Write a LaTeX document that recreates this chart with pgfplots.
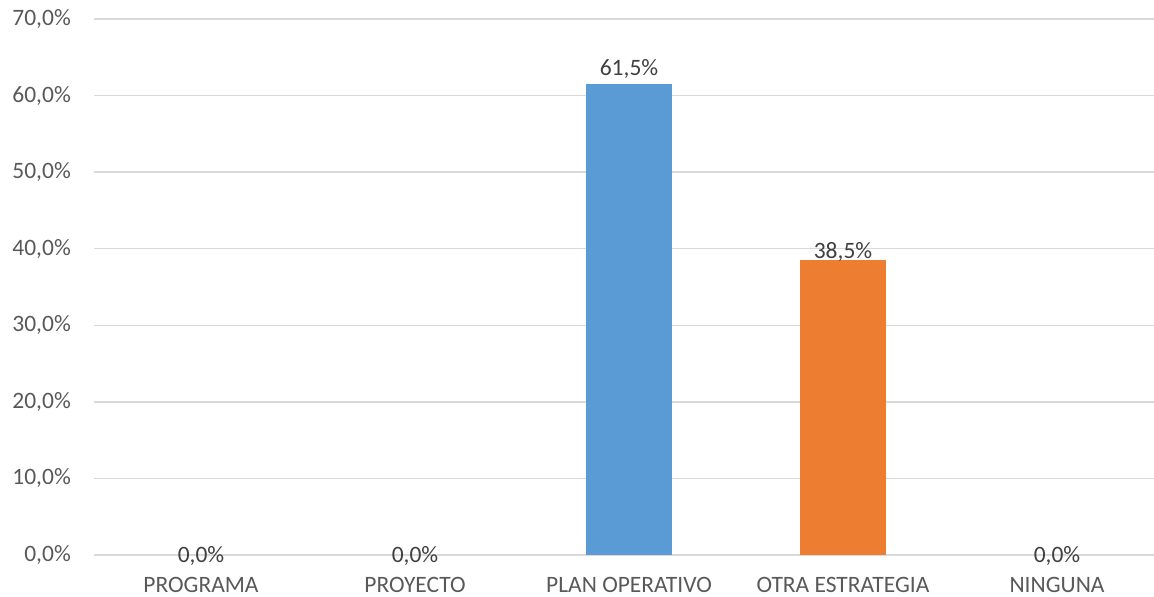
\documentclass[border=0pt]{standalone}
\usepackage{pgfplots}
\pgfplotsset{compat=1.18}
\usepackage{fontspec}
\setmainfont{Carlito}
\definecolor{txt}{HTML}{595959}
\definecolor{lbl}{HTML}{404040}
\definecolor{gridc}{HTML}{D9D9D9}
\definecolor{cblue}{HTML}{5B9BD5}
\definecolor{corange}{HTML}{ED7D31}
\begin{document}
\fontsize{23.5}{28}\selectfont
\begin{tikzpicture}[x=1pt,y=1pt]
\path[use as bounding box] (0,0) rectangle (1154,597);
\begin{axis}[
  at={(94pt,42pt)}, anchor=south west,
  scale only axis, width=1060pt, height=536pt,
  xmin=-0.5, xmax=4.4533, ymin=0, ymax=70,
  axis line style={draw=none},
  ymajorgrids, grid style={gridc, line width=1.4pt},
  major tick length=0pt,
  xtick={0,1,2,3,4},
  xticklabels={PROGRAMA,PROYECTO,PLAN OPERATIVO,OTRA ESTRATEGIA,NINGUNA},
  xticklabel style={anchor=base, yshift=-37.5pt, text=txt, font=\fontsize{23.5}{28}\selectfont},
  ytick={0,10,20,30,40,50,60,70},
  yticklabel={\pgfmathprintnumber[fixed,fixed zerofill,precision=1,use comma,assume math mode=true]{\tick}\%},
  yticklabel style={anchor=east, inner sep=0pt, xshift=-23pt, text=txt, font=\fontsize{23.5}{28}\selectfont},
  point meta=y,
  nodes near coords={\pgfmathprintnumber[fixed,fixed zerofill,precision=1,use comma,assume math mode=true]{\pgfplotspointmeta}\%},
]
\addplot[ybar, bar shift=0pt, bar width=86pt, draw=none, fill=none,
  every node near coord/.style={anchor=base, yshift=-8pt, text=lbl, inner sep=0pt, font=\fontsize{23.5}{28}\selectfont}]
  coordinates {(0,0) (1,0) (4,0)};
\addplot[ybar, bar shift=0pt, bar width=86pt, draw=none, fill=cblue,
  every node near coord/.style={anchor=base, yshift=8.5pt, text=lbl, inner sep=0pt, font=\fontsize{23.5}{28}\selectfont}]
  coordinates {(2,61.5)};
\addplot[ybar, bar shift=0pt, bar width=86pt, draw=none, fill=corange,
  every node near coord/.style={anchor=base, yshift=1.5pt, text=lbl, inner sep=0pt, font=\fontsize{23.5}{28}\selectfont}]
  coordinates {(3,38.5)};
\end{axis}
\end{tikzpicture}
\end{document}
